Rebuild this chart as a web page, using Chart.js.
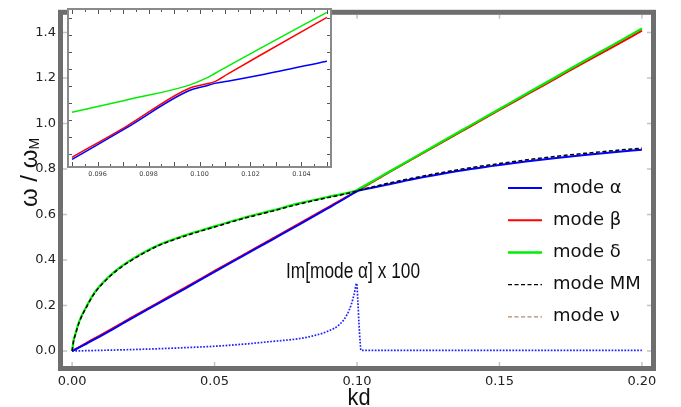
<!DOCTYPE html>
<html>
<head>
<meta charset="utf-8">
<script src="https://cdn.jsdelivr.net/npm/chart.js@4/dist/chart.umd.min.js"></script>
<style>
  body { margin: 0; background: #fff; overflow: hidden; }
  #wrap { position: relative; width: 681px; height: 407px; }
  #main { position: absolute; left: 0; top: 0; }
  #inset { position: absolute; left: 60px; top: 0; }
</style>
</head>
<body>
<div id="wrap">
  <canvas id="main" width="681" height="407"></canvas>
  <canvas id="inset" width="280" height="185"></canvas>
</div>
<script>
// main plot, kd on x, omega/omegaM on y
var kd = [0, 0.0005, 0.001, 0.0025, 0.005, 0.0075, 0.01, 0.015, 0.02, 0.03, 0.04, 0.05, 0.06, 0.07, 0.08, 0.09, 0.095, 0.0995, 0.1006,
  0.105, 0.11, 0.12, 0.13, 0.14, 0.15, 0.16, 0.17, 0.18, 0.19, 0.2];
var modeAlpha = [0, 0.003, 0.006, 0.016, 0.032, 0.049, 0.066, 0.101, 0.137, 0.207, 0.277, 0.348, 0.418, 0.488, 0.558, 0.629, 0.665, 0.699, 0.705,
  0.717, 0.730, 0.756, 0.779, 0.800, 0.818, 0.834, 0.849, 0.862, 0.874, 0.885];
var modeBeta = [0, 0.0035, 0.007, 0.0176, 0.035, 0.053, 0.070, 0.105, 0.141, 0.211, 0.281, 0.352, 0.422, 0.492, 0.562, 0.633, 0.668, 0.700, 0.707,
  0.74, 0.777, 0.848, 0.918, 0.989, 1.06, 1.13, 1.20, 1.27, 1.338, 1.408];
var modeDelta = [0, 0.045, 0.068, 0.13, 0.195, 0.25, 0.29, 0.35, 0.395, 0.464, 0.51, 0.548, 0.585, 0.617, 0.65, 0.678, 0.691, 0.704, 0.712,
  0.743, 0.779, 0.85, 0.922, 0.993, 1.064, 1.135, 1.206, 1.277, 1.347, 1.418];
var modeMM = [0, 0.043, 0.066, 0.127, 0.192, 0.247, 0.287, 0.347, 0.392, 0.461, 0.507, 0.545, 0.582, 0.614, 0.647, 0.675, 0.688, 0.702, 0.707,
  0.72, 0.735, 0.761, 0.785, 0.806, 0.824, 0.841, 0.856, 0.869, 0.881, 0.892];
var modeNu = [0, 0.0035, 0.007, 0.0176, 0.035, 0.053, 0.070, 0.105, 0.141, 0.211, 0.281, 0.352, 0.422, 0.492, 0.562, 0.633, 0.668, 0.700, 0.707,
  0.74, 0.777, 0.848, 0.918, 0.989, 1.06, 1.13, 1.20, 1.27, 1.338, 1.408];

// Im[mode alpha] x 100
var kdIm = [0, 0.01, 0.02, 0.03, 0.04, 0.05, 0.06, 0.07, 0.08, 0.085, 0.09, 0.094, 0.0965, 0.098, 0.099, 0.0999, 0.1003, 0.1007, 0.1011, 0.1014, 0.2];
var imAlpha = [0, 0.003, 0.006, 0.010, 0.015, 0.021, 0.030, 0.042, 0.055, 0.068, 0.088, 0.118, 0.16, 0.205, 0.25, 0.297, 0.22, 0.12, 0.04, 0.003, 0.003];

var xTicks = [0, 0.05, 0.1, 0.15, 0.2];
var yTicks = [0, 0.2, 0.4, 0.6, 0.8, 1.0, 1.2, 1.4];

// inset, zoom around the crossing
var kdInset = [0.0950, 0.0971, 0.0996, 0.1002, 0.1006, 0.1011, 0.1024, 0.1050];
var insetAlpha = [0.6663, 0.6824, 0.7020, 0.7042, 0.7057, 0.7068, 0.7100, 0.7172];
var insetBeta = [0.6674, 0.6832, 0.7032, 0.7052, 0.7066, 0.7105, 0.7204, 0.7399];
var insetDelta = [0.6907, 0.6970, 0.7048, 0.7080, 0.7108, 0.7145, 0.7240, 0.7425];
var insetTicks = [0.096, 0.098, 0.1, 0.102, 0.104];

function pts(xs, ys) {
  return xs.map(function (x, i) { return { x: x, y: ys[i] }; });
}

var frame = {
  id: 'frame',
  afterDraw: function (chart, args, opts) {
    var a = chart.chartArea, ctx = chart.ctx;
    ctx.save();
    // small frame ticks, light grey, pointing inward
    if (opts.ticks) {
      ctx.strokeStyle = '#c4c4c4';
      ctx.lineWidth = 1.5;
      ctx.beginPath();
      xTicks.forEach(function (v) {
        var px = chart.scales.x.getPixelForValue(v);
        ctx.moveTo(px, a.top); ctx.lineTo(px, a.top + 4);
        ctx.moveTo(px, a.bottom); ctx.lineTo(px, a.bottom - 4);
      });
      yTicks.forEach(function (v) {
        var py = chart.scales.y.getPixelForValue(v);
        ctx.moveTo(a.left, py); ctx.lineTo(a.left + 4, py);
        ctx.moveTo(a.right, py); ctx.lineTo(a.right - 4, py);
      });
      ctx.stroke();
    }
    ctx.strokeStyle = opts.color;
    ctx.lineWidth = opts.width;
    var h = opts.width / 2;
    ctx.strokeRect(a.left - h, a.top - h, a.right - a.left + opts.width, a.bottom - a.top + opts.width);
    ctx.restore();
  }
};

// text squeezed to a given width, the original uses a narrow face
function fitText(ctx, txt, cx, base, w) {
  var m = ctx.measureText(txt).width;
  ctx.save();
  ctx.translate(cx, base);
  ctx.scale(w / m, 1);
  ctx.textAlign = 'center';
  ctx.fillText(txt, 0, 0);
  ctx.restore();
}

var extras = {
  id: 'extras',
  afterDraw: function (chart) {
    var ctx = chart.ctx;
    ctx.save();
    // legend
    var items = chart.data.datasets.filter(function (d) { return d.legendRank; })
      .sort(function (a, b) { return a.legendRank - b.legendRank; });
    var y0 = 188, step = 32.2;
    items.forEach(function (d, i) {
      var y = y0 + i * step;
      ctx.strokeStyle = d.borderColor;
      ctx.lineWidth = d.legendWidth;
      ctx.setLineDash(d.borderDash || []);
      ctx.beginPath();
      ctx.moveTo(508, y);
      ctx.lineTo(542, y);
      ctx.stroke();
      ctx.setLineDash([]);
      ctx.fillStyle = '#111';
      ctx.font = '18px "DejaVu Sans"';
      ctx.textBaseline = 'middle';
      ctx.textAlign = 'left';
      ctx.fillText(d.label, 553, y);
    });
    // annotation
    ctx.textBaseline = 'alphabetic';
    ctx.fillStyle = '#111';
    ctx.font = '22px "Liberation Sans"';
    fitText(ctx, 'Im[mode α] x 100', 353, 278, 134);
    // x title
    ctx.font = '24px "Liberation Sans"';
    fitText(ctx, 'kd', 359, 405, 23);
    // y title with subscript
    ctx.translate(37, 172.5);
    ctx.rotate(-Math.PI / 2);
    ctx.textAlign = 'left';
    ctx.font = '24px "Liberation Sans"';
    var t1 = 'ω / ω';
    var w1 = ctx.measureText(t1).width;
    ctx.font = '14px "Liberation Sans"';
    var w2 = ctx.measureText('M').width;
    var sx = -(w1 + w2) / 2;
    ctx.font = '24px "Liberation Sans"';
    ctx.fillText(t1, sx, 0);
    ctx.font = '14px "Liberation Sans"';
    ctx.fillText('M', sx + w1, 2);
    ctx.restore();
  }
};

var mainChart = new Chart(document.getElementById('main'), {
  type: 'line',
  data: {
    datasets: [
      { label: 'mode MM', data: pts(kd, modeMM), borderColor: '#000000', borderWidth: 1.5, borderDash: [4, 2.5], legendWidth: 1.3, legendRank: 4, order: 0 },
      { label: 'Im', data: pts(kdIm, imAlpha), borderColor: '#2020ff', borderWidth: 1.7, borderDash: [1.7, 1.5], order: 1 },
      { label: 'mode α', data: pts(kd, modeAlpha), borderColor: '#0000ff', borderWidth: 2, legendWidth: 2, legendRank: 1, order: 2 },
      { label: 'mode δ', data: pts(kd, modeDelta), borderColor: '#00ee00', borderWidth: 2.2, legendWidth: 2.5, legendRank: 3, order: 3 },
      { label: 'mode β', data: pts(kd, modeBeta), borderColor: '#ff0000', borderWidth: 2, legendWidth: 2, legendRank: 2, order: 4 },
      { label: 'mode ν', data: pts(kd, modeNu), borderColor: '#b08a6a', borderWidth: 1.5, borderDash: [4, 2.5], legendWidth: 1.3, legendRank: 5, order: 5 }
    ]
  },
  options: {
    responsive: false,
    animation: false,
    events: [],
    elements: { point: { radius: 0 }, line: { cubicInterpolationMode: 'monotone' } },
    layout: { padding: { left: 0, top: 7, right: 30, bottom: 0 } },
    plugins: {
      legend: { display: false },
      tooltip: { enabled: false },
      frame: { color: '#6e6e6e', width: 5, ticks: true }
    },
    scales: {
      x: {
        type: 'linear', min: -0.0032, max: 0.2032,
        grid: { display: false, drawTicks: false, tickLength: 0 }, border: { display: false },
        afterBuildTicks: function (s) { s.ticks = xTicks.map(function (v) { return { value: v }; }); },
        afterFit: function (s) { s.height = 41; },
        ticks: { color: '#222', font: { family: 'DejaVu Sans', size: 13 }, padding: 8, maxRotation: 0,
          callback: function (v) { return v.toFixed(2); } }
      },
      y: {
        type: 'linear', min: -0.0658, max: 1.478,
        grid: { display: false, drawTicks: false, tickLength: 0 }, border: { display: false },
        afterBuildTicks: function (s) { s.ticks = yTicks.map(function (v) { return { value: v }; }); },
        afterFit: function (s) { s.width = 63; },
        ticks: { color: '#222', font: { family: 'DejaVu Sans', size: 13 }, padding: 7,
          callback: function (v) { return v.toFixed(1); } }
      }
    }
  },
  plugins: [frame, extras]
});

var insetTickMarks = {
  id: 'insetTickMarks',
  afterDraw: function (chart) {
    var a = chart.chartArea, ctx = chart.ctx, xs = chart.scales.x;
    ctx.save();
    ctx.strokeStyle = '#555';
    ctx.lineWidth = 1;
    for (var i = 0; i <= 20; i++) {
      var v = 0.095 + i * 0.0005;
      var px = Math.round(xs.getPixelForValue(v)) + 0.5;
      var len = (i % 2 === 0) ? 4 : 2;
      ctx.beginPath();
      ctx.moveTo(px, a.bottom); ctx.lineTo(px, a.bottom - len);
      ctx.moveTo(px, a.top); ctx.lineTo(px, a.top + len);
      ctx.stroke();
    }
    for (var y = a.top + 8; y < a.bottom; y += 17) {
      ctx.beginPath();
      ctx.moveTo(a.left, y + 0.5); ctx.lineTo(a.left + 3, y + 0.5);
      ctx.moveTo(a.right, y + 0.5); ctx.lineTo(a.right - 3, y + 0.5);
      ctx.stroke();
    }
    ctx.restore();
  }
};

var whiteBg = {
  id: 'whiteBg',
  beforeDraw: function (chart) {
    var a = chart.chartArea, ctx = chart.ctx;
    ctx.save();
    ctx.fillStyle = '#fff';
    ctx.fillRect(a.left, a.top, a.right - a.left, a.bottom - a.top);
    ctx.restore();
  }
};

var insetChart = new Chart(document.getElementById('inset'), {
  type: 'line',
  data: {
    datasets: [
      { label: 'mode α', data: pts(kdInset, insetAlpha), borderColor: '#0000ff', borderWidth: 1.5, order: 0 },
      { label: 'mode β', data: pts(kdInset, insetBeta), borderColor: '#ff0000', borderWidth: 1.5, order: 1 },
      { label: 'mode δ', data: pts(kdInset, insetDelta), borderColor: '#00ee00', borderWidth: 1.5, order: 2 }
    ]
  },
  options: {
    responsive: false,
    animation: false,
    events: [],
    elements: { point: { radius: 0 }, line: { cubicInterpolationMode: 'monotone' } },
    layout: { padding: { left: 0, top: 10, right: 10, bottom: 0 } },
    plugins: {
      legend: { display: false },
      tooltip: { enabled: false },
      frame: { color: '#8a8a8a', width: 2, ticks: false }
    },
    scales: {
      x: {
        type: 'linear', min: 0.09488, max: 0.10512,
        grid: { display: false, drawTicks: false, tickLength: 0 }, border: { display: false },
        afterBuildTicks: function (s) { s.ticks = insetTicks.map(function (v) { return { value: v }; }); },
        afterFit: function (s) { s.height = 19; },
        ticks: { color: '#444', font: { family: 'DejaVu Sans', size: 6.5 }, padding: 4, maxRotation: 0,
          callback: function (v) { return v.toFixed(3); } }
      },
      y: {
        type: 'linear', min: 0.6629, max: 0.7437,
        grid: { display: false, drawTicks: false }, border: { display: false },
        ticks: { display: false },
        afterFit: function (s) { s.width = 9; }
      }
    }
  },
  plugins: [whiteBg, frame, insetTickMarks]
});
</script>
</body>
</html>
